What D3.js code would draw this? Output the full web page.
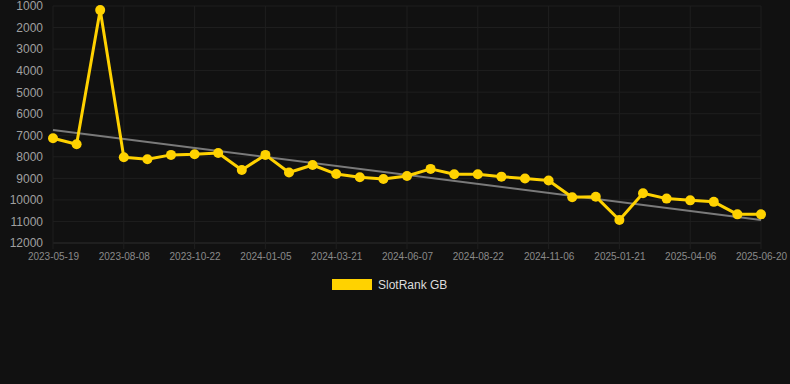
<!DOCTYPE html>
<html>
<head>
<meta charset="utf-8">
<script src="https://d3js.org/d3.v7.min.js"></script>
<style>
  html, body { margin: 0; padding: 0; background: #111111; }
  svg { display: block; }
  .tick text { font-family: "Liberation Sans", Arial, sans-serif; }
</style>
</head>
<body>
<svg width="790" height="384"></svg>
<script>
// dates (every 3rd one is shown on the axis)
const dates = [
  '2023-05-19', '2023-06-15', '2023-07-12', '2023-08-08', '2023-09-02', '2023-09-27',
  '2023-10-22', '2023-11-16', '2023-12-11', '2024-01-05', '2024-01-30', '2024-02-25',
  '2024-03-21', '2024-04-16', '2024-05-12', '2024-06-07', '2024-07-02', '2024-07-27',
  '2024-08-22', '2024-09-16', '2024-10-11', '2024-11-06', '2024-12-01', '2024-12-26',
  '2025-01-21', '2025-02-14', '2025-03-12', '2025-04-06', '2025-05-01', '2025-05-26',
  '2025-06-20'
];
const rank = [
  7140, 7420, 1190, 8020, 8110, 7910, 7880, 7820, 8610, 7910, 8730, 8380,
  8800, 8950, 9030, 8890, 8560, 8810, 8810, 8920, 9010, 9100, 9880, 9850,
  10930, 9690, 9940, 10020, 10090, 10670, 10670
];
const yTicks = [1000, 2000, 3000, 4000, 5000, 6000, 7000, 8000, 9000, 10000, 11000, 12000];
const trendEnds = [6750, 10930]; // grey trend line, first and last date
const seriesName = 'SlotRank GB';

const svg = d3.select('svg');
const margin = {left: 53, right: 29, top: 6, bottom: 141};
const width = 790, height = 384;

let x = d3.scalePoint()
  .domain(dates)
  .range([margin.left, width - margin.right]);

let y = d3.scaleLinear()
  .domain([1000, 12000])
  .range([margin.top, height - margin.bottom]);

const shown = dates.filter((d, i) => i % 3 === 0);

// grid
svg.append('g')
  .selectAll('line')
  .data(yTicks)
  .join('line')
  .attr('x1', margin.left).attr('x2', width - margin.right)
  .attr('y1', d => y(d)).attr('y2', d => y(d))
  .attr('stroke', d => d === 12000 ? '#2e2e2e' : '#1f1f1f')
  .attr('stroke-width', 1);

svg.append('g')
  .selectAll('line')
  .data(shown)
  .join('line')
  .attr('x1', d => x(d)).attr('x2', d => x(d))
  .attr('y1', margin.top).attr('y2', y(12000) + 6)
  .attr('stroke', '#1f1f1f')
  .attr('stroke-width', 1);

// axes
let yAxis = d3.axisLeft(y).tickValues(yTicks).tickFormat(d3.format('d')).tickSize(0).tickPadding(10);
svg.append('g')
  .attr('transform', `translate(${margin.left},0)`)
  .call(yAxis)
  .call(g => g.select('.domain').remove())
  .selectAll('text')
  .attr('fill', '#a0a0a0')
  .style('font-size', '12px');

let xAxis = d3.axisBottom(x).tickValues(shown).tickSize(0).tickPadding(10);
svg.append('g')
  .attr('transform', `translate(0,${y(12000)})`)
  .call(xAxis)
  .call(g => g.select('.domain').remove())
  .selectAll('text')
  .attr('fill', '#8a8a8a')
  .style('font-size', '10px');

// trend
svg.append('line')
  .attr('x1', x(dates[0])).attr('y1', y(trendEnds[0]))
  .attr('x2', x(dates[dates.length - 1])).attr('y2', y(trendEnds[1]))
  .attr('stroke', '#7a7a7a')
  .attr('stroke-width', 2);

// series
let line = d3.line()
  .x((d, i) => x(dates[i]))
  .y(d => y(d));

svg.append('path')
  .datum(rank)
  .attr('d', line)
  .attr('fill', 'none')
  .attr('stroke', '#ffd200')
  .attr('stroke-width', 3)
  .attr('stroke-linejoin', 'round');

svg.append('g')
  .selectAll('circle')
  .data(rank)
  .join('circle')
  .attr('cx', (d, i) => x(dates[i]))
  .attr('cy', d => y(d))
  .attr('r', 5)
  .attr('fill', '#ffd200');

// legend
let legend = svg.append('g').attr('transform', 'translate(332,279)');
legend.append('rect')
  .attr('width', 40).attr('height', 11)
  .attr('fill', '#ffd200');
legend.append('text')
  .attr('x', 46).attr('y', 10)
  .attr('fill', '#dcdcdc')
  .style('font-family', '"Liberation Sans", Arial, sans-serif')
  .style('font-size', '12px')
  .text(seriesName);
</script>
</body>
</html>
